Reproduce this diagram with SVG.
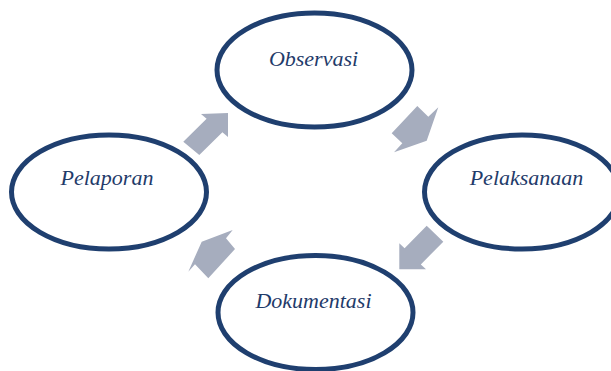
<svg xmlns="http://www.w3.org/2000/svg" width="611" height="371" viewBox="0 0 611 371">
<style>
.node ellipse{fill:#ffffff;stroke:#1F3F6F;stroke-width:5}
.node text{font-family:"Liberation Serif",serif;font-style:italic;font-size:22px;fill:#1F3B6A;text-anchor:middle}
.arrow{fill:#A6ADBE;stroke:none}
</style>
<rect width="611" height="371" fill="#ffffff"/>
<g id="observasi" class="node">
<ellipse cx="314.5" cy="70" rx="97.5" ry="57"/>
<text x="313.5" y="66">Observasi</text>
</g>
<g id="pelaksanaan" class="node">
<ellipse cx="522" cy="192" rx="97.5" ry="57"/>
<text x="526.5" y="185">Pelaksanaan</text>
</g>
<g id="dokumentasi" class="node">
<ellipse cx="315.5" cy="312.5" rx="97.5" ry="57"/>
<text x="313.5" y="308">Dokumentasi</text>
</g>
<g id="pelaporan" class="node">
<ellipse cx="109" cy="192" rx="97.5" ry="57"/>
<text x="107" y="185">Pelaporan</text>
</g>
<g id="connectors">
<polygon class="arrow" points="228,113 228,137 222.4,132.2 199.3,155 183.3,141.7 206.6,118.8 201,114"/>
<polygon class="arrow" points="417.3,106 428.3,116.7 438.3,107.3 426.7,140.7 394,152.3 402.3,143.3 391.7,133.3"/>
<polygon class="arrow" points="399.3,269.3 399.3,243.3 404.6,248.2 426.7,225.7 443.3,241.7 420.8,264.4 426,269.3"/>
<polygon class="arrow" points="201.7,241.7 232.7,230 226,238.3 235,249 208.3,278.3 195,264.3 188.3,271.7"/>
</g>
</svg>
